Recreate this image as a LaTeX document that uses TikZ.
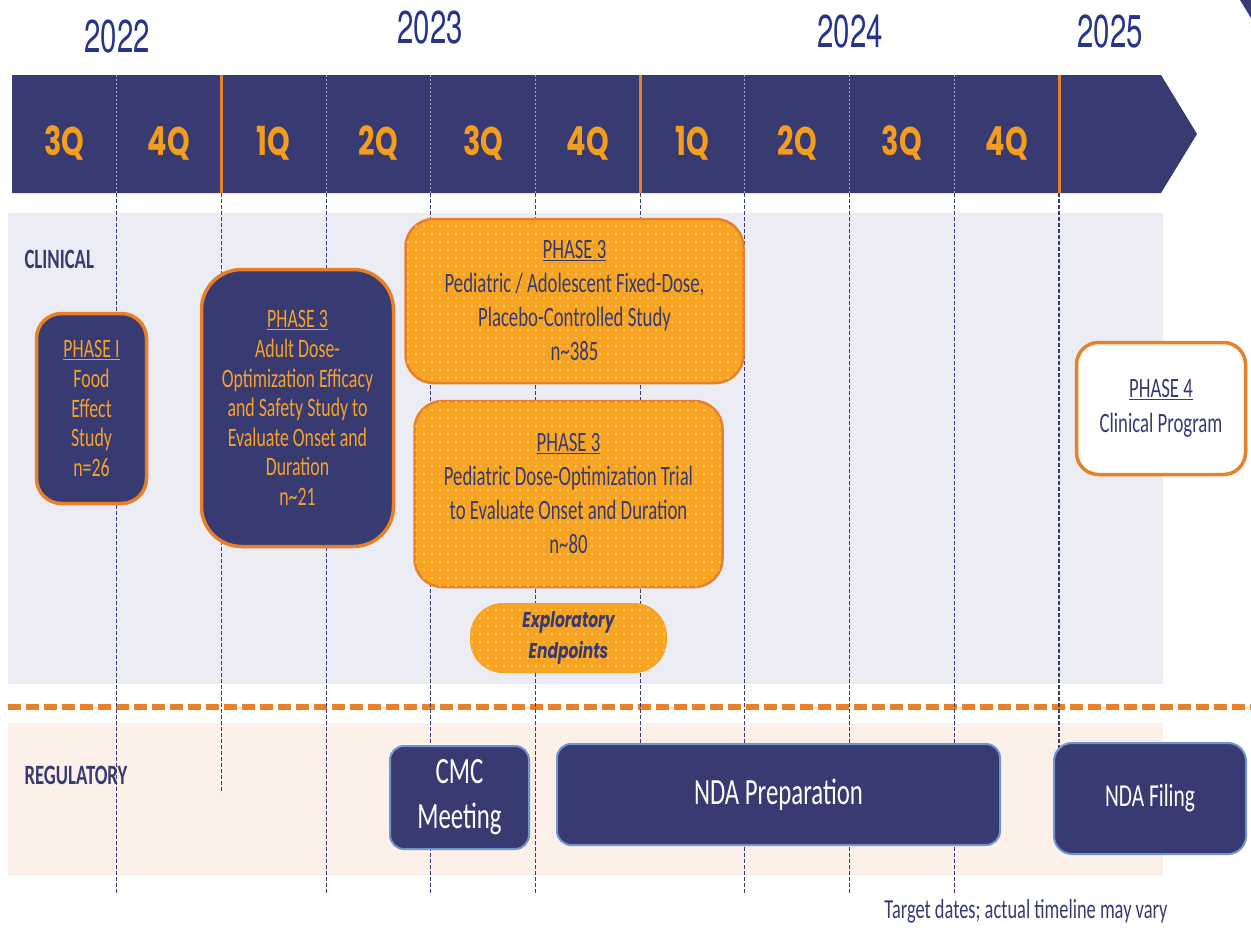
\documentclass[tikz,border=0pt]{standalone}
\usepackage{fontspec}
\setmainfont{Carlito}[FakeStretch=0.67]
\newfontfamily\yearfont{TeX Gyre Heros}[FakeStretch=0.64]
\newfontfamily\qfont{Poppins}[FakeStretch=0.72]
\usetikzlibrary{positioning,patterns.meta}

\definecolor{navy}{HTML}{383A72}
\definecolor{yearblue}{HTML}{28348A}
\definecolor{qorange}{HTML}{F39C1F}
\definecolor{ortext}{HTML}{F5A02B}
\definecolor{orborder}{HTML}{E8802A}
\definecolor{orfill}{HTML}{F7A422}
\definecolor{clinbg}{HTML}{ECEDF4}
\definecolor{regbg}{HTML}{FCF0E8}
\definecolor{regborder}{HTML}{6F95CC}

\begin{document}
\begin{tikzpicture}[x=1pt, y=-1pt]
      \tikzstyle{yearlab} = [font=\yearfont\fontsize{46}{50}\selectfont, text=yearblue]
      \tikzstyle{quarter} = [font=\qfont\bfseries\fontsize{40}{44}\selectfont, text=qorange]
      \tikzstyle{lanelab} = [font=\bfseries\fontsize{28}{30}\selectfont, text=navy, anchor=west]
      \tikzstyle{gridline} = [navy, line width=1.1pt, dash pattern=on 4pt off 2pt]
      \tikzstyle{bannerdiv} = [white!55!navy, line width=1.1pt, dash pattern=on 2pt off 2pt]
      \tikzstyle{yeartick} = [orborder, line width=3pt]
      \tikzstyle{darkphase} = [draw=orborder, line width=3.5pt, fill=navy, text=ortext, align=center,
        inner sep=0pt, font=\fontsize{26.6}{29.6}\selectfont]
      \tikzstyle{orangephase} = [draw=orborder, line width=2.5pt, fill=orfill, text=navy, align=center,
        inner sep=0pt, font=\fontsize{28}{34}\selectfont,
        postaction={pattern={Dots[distance=8pt, radius=0.9pt]}, pattern color=white!70!orfill}]
      \tikzstyle{regbox} = [draw=regborder, line width=2pt, fill=navy, text=white, align=center,
        inner sep=0pt, rounded corners=14pt]
      \useasboundingbox (0,0) rectangle (1251,930);

      % lanes
      \fill[clinbg] (8,213) rectangle (1163,684);
      \fill[regbg] (8,723) rectangle (1163,876);
      \draw[orborder, line width=6pt, dash pattern=on 13pt off 5pt] (8,707) -- (1251,707);
      \fill[navy] (1240,0) -- (1251,0) -- (1251,18) -- cycle;

      % banner
      \fill[navy] (12,75) -- (1161,75) -- (1197,134) -- (1161,193) -- (12,193) -- cycle;
      \foreach \k in {1,3,4,5,7,8,9}
        \draw[bannerdiv] ({12+104.7*\k},75) -- ({12+104.7*\k},193);
      \foreach \k in {2,6,10}
        \draw[yeartick] ({12+104.7*\k},75) -- ({12+104.7*\k},193);
      \foreach \q [count=\i from 0] in {3Q,4Q,1Q,2Q,3Q,4Q,1Q,2Q,3Q,4Q}
        \node[quarter] (qtr\i) at ({64.35+104.7*\i},143) {\q};

      \node[yearlab] (y2022) at (117,37) {2022};
      \node[yearlab] (y2023) at (430,28) {2023};
      \node[yearlab] (y2024) at (850,32) {2024};
      \node[yearlab] (y2025) at (1110,32) {2025};

      % quarter grid
      \foreach \k/\e in {1/895,2/793,3/895,4/895,5/895,6/760,7/895,8/895,9/895,10/760}
        \draw[gridline] ({12+104.7*\k},193) -- ({12+104.7*\k},\e);

      \node[lanelab] (clinical) at (21,259) {CLINICAL};
      \node[lanelab] (regulatory) at (21,775) {REGULATORY};

      % clinical studies
      \node[darkphase, rounded corners=25pt, minimum width=110pt, minimum height=190pt] (ph1) at (91.5,408.5)
        {\underline{PHASE I}\\Food\\Effect\\Study\\n=26};
      \node[darkphase, rounded corners=40pt, minimum width=192pt, minimum height=277pt] (ph3adult) at (297.5,408)
        {\underline{PHASE 3}\\Adult Dose-\\Optimization Efficacy\\and Safety Study to\\Evaluate Onset and\\Duration\\n\textasciitilde 21};
      \node[orangephase, rounded corners=28pt, minimum width=338pt, minimum height=164pt] (ph3fixed) at (574.5,301)
        {\underline{PHASE 3}\\Pediatric / Adolescent Fixed-Dose,\\Placebo-Controlled Study\\n\textasciitilde 385};
      \node[orangephase, rounded corners=28pt, minimum width=308pt, minimum height=186pt] (ph3ped) at (568.5,494)
        {\underline{PHASE 3}\\Pediatric Dose-Optimization Trial\\to Evaluate Onset and Duration\\n\textasciitilde 80};
      \node[orangephase, draw=none, rounded corners=33pt, minimum width=197pt, minimum height=70pt,
        font=\qfont\bfseries\itshape\fontsize{21.5}{31}\selectfont] (explore) at (568.5,638)
        {Exploratory\\Endpoints};
      \node[draw=orborder, line width=3.5pt, fill=white, text=navy, align=center, inner sep=0pt,
        rounded corners=22pt, minimum width=169pt, minimum height=132pt,
        font=\fontsize{28}{35}\selectfont] (ph4) at (1161,408.5)
        {\underline{PHASE 4}\\Clinical Program};

      % regulatory
      \node[regbox, minimum width=139pt, minimum height=103pt, font=\fontsize{37}{45}\selectfont] (cmc) at (459.5,797.5)
        {CMC\\Meeting};
      \node[regbox, minimum width=443pt, minimum height=101pt, font=\fontsize{37}{45}\selectfont] (ndaprep) at (778.5,794.5)
        {NDA Preparation};
      \node[regbox, rounded corners=18pt, minimum width=192pt, minimum height=111pt, font=\fontsize{32}{40}\selectfont] (ndafile) at (1150,798.5)
        {NDA Filing};

      \node[text=navy, font=\fontsize{27.5}{30}\selectfont, anchor=east] (note) at (1171,911)
        {Target dates; actual timeline may vary};
\end{tikzpicture}
\end{document}
